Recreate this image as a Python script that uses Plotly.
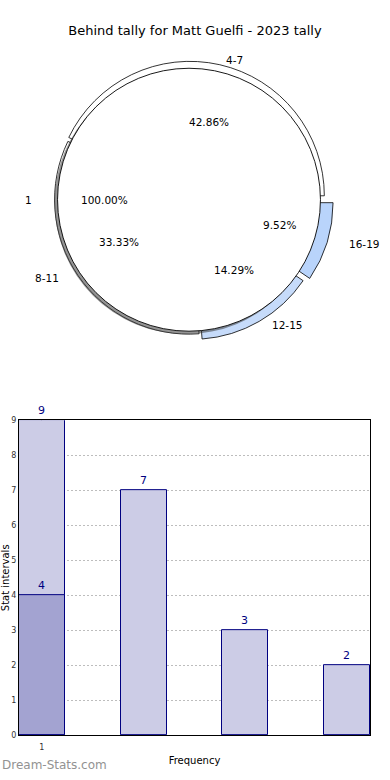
import numpy as np
import plotly.graph_objects as go

# ---------------- data ----------------
title_text = "Behind tally for Matt Guelfi - 2023 tally"

pie_labels = ["4-7", "8-11", "12-15", "16-19"]
pie_values = [9, 7, 3, 2]
pie_pulls = [0.03, 0.0, 0.045, 0.075]
pie_colors = ["#ffffff", "#ffffff", "#c6dbfa", "#b9d4fb"]

disc_labels = ["1"]
disc_values = [4]

bar_positions = [0, 1, 2, 3]
bar_values = [9, 7, 3, 2]
overlay_positions = [0]
overlay_values = [4]
tick_labels = ["1"]

# ---------------- geometry (pixels) ----------------
W, H = 390, 780
cx, cy = 189, 198          # pie centre
R_disc = 133
R_outer = 136
rx_t, ry_t = 141, 128      # text ellipse


def dom(cxp, cyp, half):
    return dict(x=[(cxp - half) / W, (cxp + half) / W],
                y=[1 - (cyp + half) / H, 1 - (cyp - half) / H])


fig = go.Figure()

# outer pie (4 slices, exploded); drawn clockwise in reversed order so that the
# first category starts at 3 o'clock and runs counter-clockwise
maxp = max(pie_pulls)
fig.add_trace(go.Pie(
    labels=pie_labels[::-1], values=pie_values[::-1], pull=pie_pulls[::-1],
    sort=False, direction="clockwise", rotation=90,
    marker=dict(colors=pie_colors[::-1], line=dict(color="#000000", width=0.8)),
    textinfo="none", hoverinfo="skip", showlegend=False,
    domain=dom(cx, cy, R_outer * (1 + maxp)),
))
# shadow of disc
fig.add_trace(go.Pie(
    labels=disc_labels, values=disc_values, sort=False,
    marker=dict(colors=["rgba(60,60,60,0.55)"], line=dict(width=0)),
    textinfo="none", hoverinfo="skip", showlegend=False,
    domain=dom(cx - 3, cy + 3, R_disc),
))
# white disc
fig.add_trace(go.Pie(
    labels=disc_labels, values=disc_values, sort=False,
    marker=dict(colors=["#ffffff"], line=dict(color="#000000", width=0.9)),
    textinfo="none", hoverinfo="skip", showlegend=False,
    domain=dom(cx, cy, R_disc),
))

annotations = []


def pie_texts(labels, values, pulls):
    tot = float(sum(values))
    start = 0.0
    for lab, v, p in zip(labels, values, pulls):
        frac = v / tot
        mid = np.deg2rad((start + frac / 2) * 360)
        start += frac
        c, s = np.cos(mid), np.sin(mid)
        lx = cx + (1.1 + p) * rx_t * c
        ly = cy - (1.1 + p) * ry_t * s
        annotations.append(dict(
            x=lx / W, y=1 - ly / H, xref="paper", yref="paper",
            text=lab, showarrow=False, xanchor="left" if c > 0 else "right",
            yanchor="middle", font=dict(size=10.5, color="#000000")))
        px_ = cx + (0.6 + p) * rx_t * c
        py_ = cy - (0.6 + p) * ry_t * s
        annotations.append(dict(
            x=px_ / W, y=1 - py_ / H, xref="paper", yref="paper",
            text="%.2f%%" % (frac * 100), showarrow=False, xanchor="center",
            yanchor="middle", font=dict(size=10.5, color="#000000")))


pie_texts(pie_labels, pie_values, pie_pulls)
pie_texts(disc_labels, disc_values, [0.0])

# ---------------- bars ----------------
fig.add_trace(go.Bar(
    x=bar_positions, y=bar_values, width=0.45,
    marker=dict(color="rgb(204,204,230)", line=dict(color="#000080", width=1)),
    text=[str(v) for v in bar_values], textposition="outside",
    textfont=dict(size=11, color="#000080"), cliponaxis=False,
    hoverinfo="skip", showlegend=False,
))
fig.add_trace(go.Bar(
    x=overlay_positions, y=overlay_values, width=0.45,
    marker=dict(color="rgb(163,163,209)", line=dict(color="#000080", width=1)),
    text=[str(v) for v in overlay_values], textposition="outside",
    textfont=dict(size=11, color="#000080"), cliponaxis=False,
    hoverinfo="skip", showlegend=False,
))

ax_l, ax_r, ax_t, ax_b = 19, 370, 421, 740

annotations.append(dict(
    x=0, y=1 - 770 / H, xref="paper", yref="paper", text="Dream-Stats.com",
    showarrow=False, xanchor="left", yanchor="middle",
    font=dict(size=12, color="#929292")))

fig.update_layout(
    width=W, height=H, autosize=False,
    margin=dict(l=0, r=0, t=0, b=0),
    paper_bgcolor="white", plot_bgcolor="white",
    font=dict(family="DejaVu Sans", color="#000000"),
    title=dict(text=title_text, x=0.5, xanchor="center", y=1 - 30 / H,
               yanchor="middle", font=dict(size=13, color="#000000")),
    barmode="overlay", bargap=0,
    xaxis=dict(domain=[ax_l / W, ax_r / W], range=[-0.225, 3.225],
               tickvals=overlay_positions, ticktext=tick_labels,
               showgrid=True, gridcolor="#bdbdbd", griddash="2px,2px", gridwidth=1,
               showline=True, linecolor="#000000", linewidth=1, mirror=True,
               ticks="outside", ticklen=4, tickcolor="rgba(0,0,0,0)",
               tickfont=dict(size=8, color="#333333"),
               title=dict(text="Frequency", font=dict(size=10), standoff=5),
               zeroline=False, fixedrange=True),
    yaxis=dict(domain=[1 - ax_b / H, 1 - ax_t / H], range=[0, 9],
               tickvals=list(range(10)), showgrid=True, gridcolor="#bdbdbd",
               griddash="2px,2px", gridwidth=1,
               showline=True, linecolor="#000000", linewidth=1, mirror=True,
               ticks="", tickfont=dict(size=8, color="#333333"),
               title=dict(text="Stat intervals", font=dict(size=10), standoff=0),
               zeroline=False, fixedrange=True),
    annotations=annotations,
)

fig.write_html("out.html", config={"displayModeBar": False},
               post_script="document.body.style.margin='0';"
                           "document.body.style.padding='0';"
                           "document.documentElement.style.overflow='hidden';"
                           "document.body.style.overflow='hidden';")
